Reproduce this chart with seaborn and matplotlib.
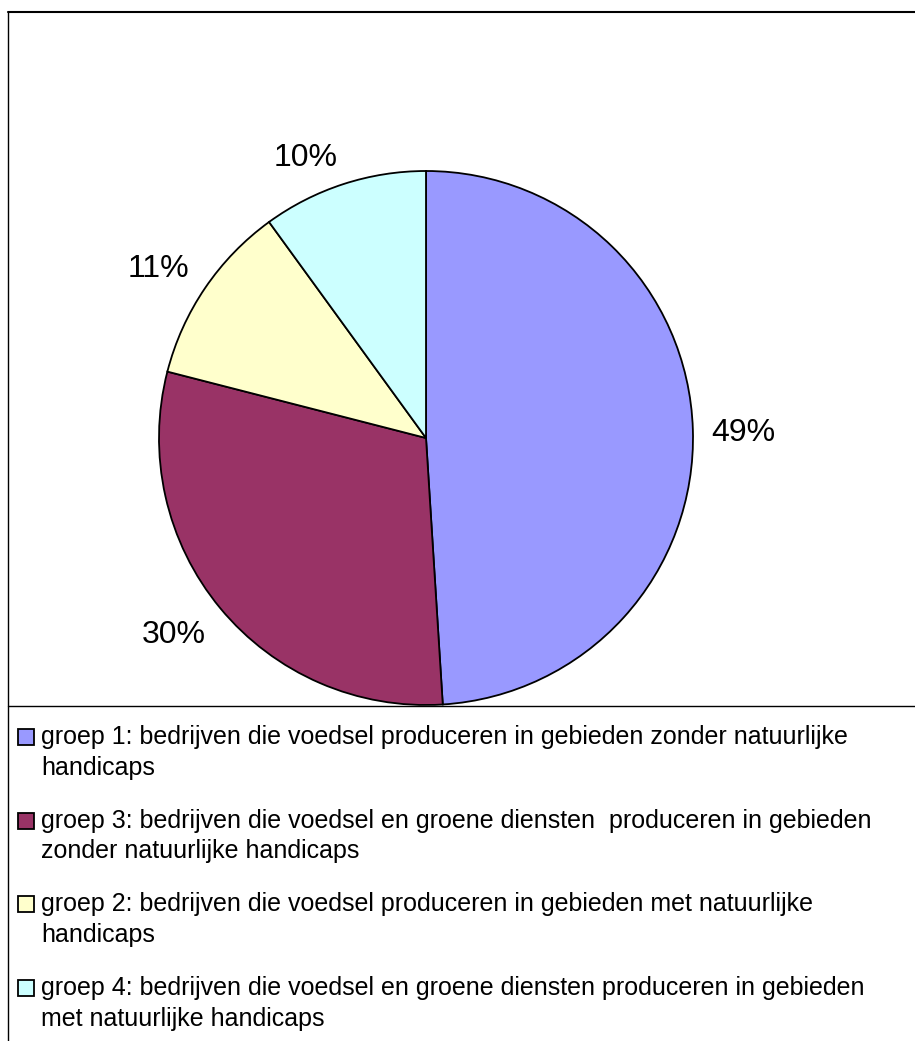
import matplotlib
matplotlib.use('Agg')
import numpy as np
import matplotlib.pyplot as plt
import seaborn as sns
from matplotlib.lines import Line2D
from matplotlib.patches import Rectangle

sns.set_theme(style='white')
plt.rcParams['font.family'] = ['Liberation Sans', 'DejaVu Sans']

# data (order as drawn clockwise from 12 o'clock)
groups = ['groep 1', 'groep 3', 'groep 2', 'groep 4']
shares = [49, 30, 11, 10]
colors = ['#9999FF', '#993366', '#FFFFCC', '#CCFFFF']
legend_lines = [
    ['groep 1: bedrijven die voedsel produceren in gebieden zonder natuurlijke', 'handicaps'],
    ['groep 3: bedrijven die voedsel en groene diensten  produceren in gebieden', 'zonder natuurlijke handicaps'],
    ['groep 2: bedrijven die voedsel produceren in gebieden met natuurlijke', 'handicaps'],
    ['groep 4: bedrijven die voedsel en groene diensten produceren in gebieden', 'met natuurlijke handicaps'],
]

W, H = 915, 1041
fig = plt.figure(figsize=(W / 100, H / 100), dpi=100)
fig.patch.set_facecolor('white')

# pie axes, center (426, 438) px, radius 267 px
cx, cy, r = 426, 438, 267
ax = fig.add_axes([(cx - r) / W, (H - cy - r) / H, 2 * r / W, 2 * r / H])
wedges, texts, autotexts = ax.pie(
    shares, colors=colors, startangle=90, counterclock=False,
    autopct='%1.0f%%', pctdistance=1.07,
    wedgeprops=dict(edgecolor='black', linewidth=1.3),
    textprops=dict(fontsize=23, color='black'))
ax.set_xlim(-1, 1)
ax.set_ylim(-1, 1)
ax.set_aspect('auto')
ax.axis('off')

# excel-like label placement: box sits outside the pie
for w, t in zip(wedges, autotexts):
    th = np.deg2rad((w.theta1 + w.theta2) / 2)
    c, s = np.cos(th), np.sin(th)
    t.set_ha('left' if c > 0.3 else 'right' if c < -0.3 else 'center')
    t.set_va('baseline' if s > 0.3 else 'top' if s < -0.3 else 'center_baseline')
    t.set_clip_on(False)

# frame lines
def fline(x0, y0, x1, y1, lw=1.0):
    fig.add_artist(Line2D([x0 / W, x1 / W], [1 - y0 / H, 1 - y1 / H],
                          color='black', linewidth=lw, transform=fig.transFigure))

fline(8, 12, W, 12, 1.5)
fline(8, 12, 8, H, 1.0)
fline(8, 706, W, 706, 1.0)

# legend
fs = 18
y_first = 737
step = 83.7
line_gap = 30.5
for i, (lines, col) in enumerate(zip(legend_lines, colors)):
    y = y_first + i * step
    fig.add_artist(Rectangle((18 / W, 1 - (y + 8) / H), 16 / W, 16 / H,
                             facecolor=col, edgecolor='black', linewidth=1.3,
                             transform=fig.transFigure))
    for j, txt in enumerate(lines):
        fig.text(41 / W, 1 - (y + j * line_gap) / H, txt, fontsize=fs,
                 va='center', ha='left', color='black')

fig.savefig('out.png', dpi=100)
